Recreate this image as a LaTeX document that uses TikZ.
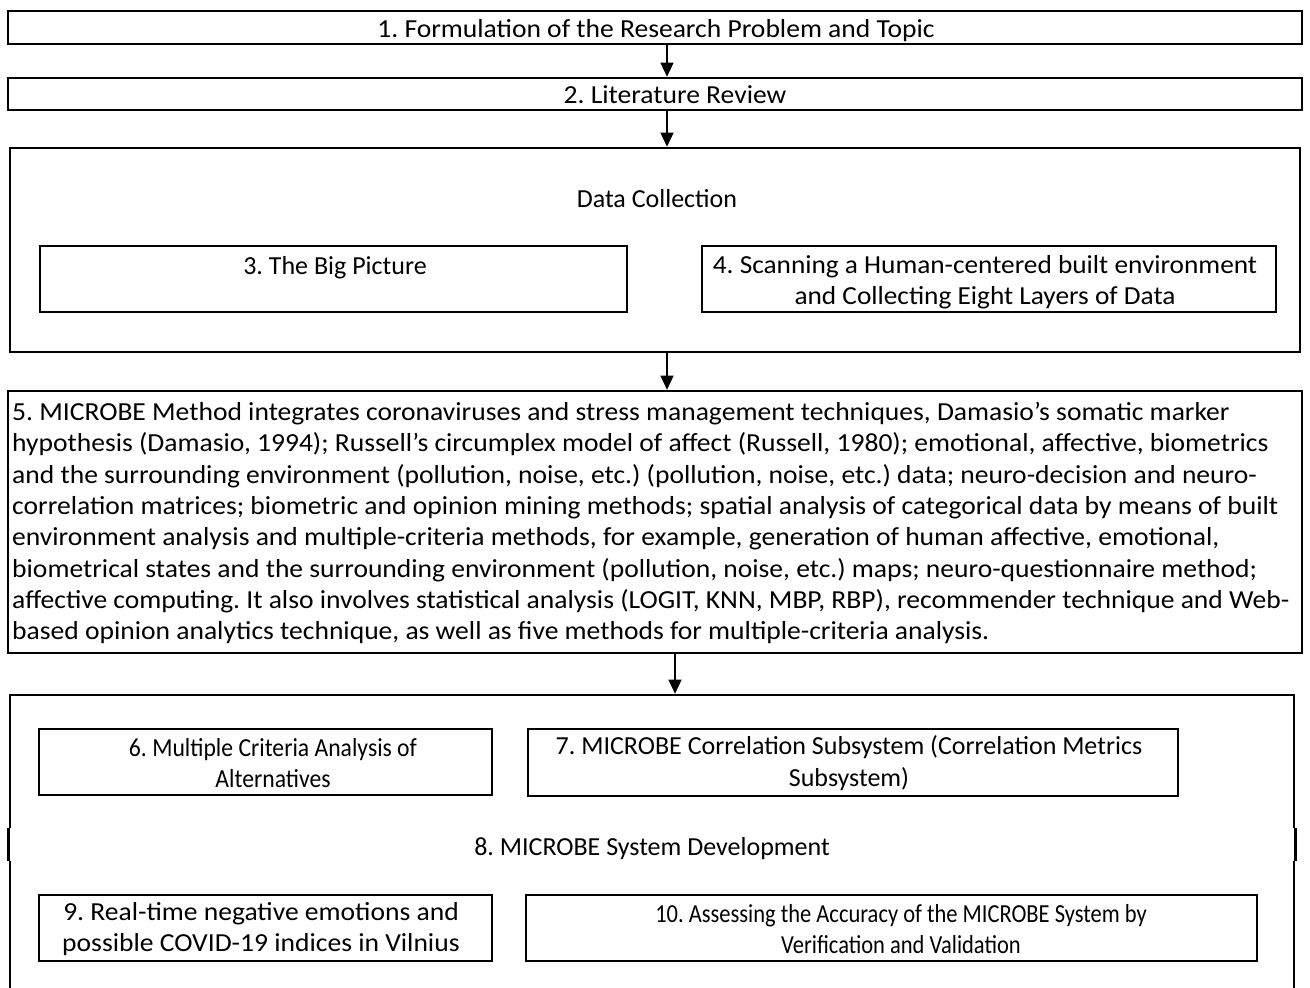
\documentclass[tikz,border=0pt]{standalone}
\usepackage{fontspec}
\setmainfont{Carlito}
\newfontfamily\fsOne[FakeStretch=1.06]{Carlito}
\newfontfamily\fsFour[FakeStretch=1.05]{Carlito}
\newfontfamily\fsFive[FakeStretch=1.06]{Carlito}
\newfontfamily\fsSix[FakeStretch=0.91]{Carlito}
\newfontfamily\fsNine[FakeStretch=1.06]{Carlito}
\newfontfamily\fsTen[FakeStretch=0.865]{Carlito}
\newcommand\tsize{\fontsize{26}{31.3}\selectfont}
\usetikzlibrary{arrows.meta}
\frenchspacing
\begin{document}
\begin{tikzpicture}[x=1pt,y=-1pt,
  frame/.style={draw, line width=2.6pt, inner sep=0pt},
  ghost/.style={inner sep=0pt, outer sep=1.3pt},
  txt/.style={font=\tsize, inner sep=0pt, align=center},
  arr/.style={line width=1.3pt, -{Triangle[width=13pt,length=14pt]}}]
\clip (0,0) rectangle (1310,988);
% boxes
\node[frame, minimum width=1294pt, minimum height=33pt] (b1) at (655,27.5) {};
\node[frame, minimum width=1294pt, minimum height=32pt] (b2) at (655,94) {};
\node[frame, minimum width=1290pt, minimum height=204pt] (dc) at (655,250) {};
\node[frame, minimum width=587pt, minimum height=66pt] (b3) at (333.5,279) {};
\node[frame, minimum width=574pt, minimum height=66pt] (b4) at (989,279) {};
\node[frame, minimum width=1294pt, minimum height=262pt] (b5) at (655,522) {};
\node[ghost, minimum width=1284pt, minimum height=310pt] (b8) at (652,850) {};
\draw[line width=2.6pt] (10,1000) -- (10,861) (8.5,861) -- (8.5,828) (10,828) -- (10,695) -- (1294,695) -- (1294,828)
  (1295.5,828) -- (1295.5,861) (1294,861) -- (1294,1000);
\node[frame, minimum width=453pt, minimum height=66pt] (b6) at (265.5,762) {};
\node[frame, minimum width=650pt, minimum height=67pt] (b7) at (853,762.5) {};
\node[frame, minimum width=453pt, minimum height=66pt] (b9) at (265.5,928) {};
\node[frame, minimum width=731pt, minimum height=66pt] (b10) at (891.5,928) {};
% texts
\node[txt, anchor=base, font=\fsOne\tsize] (t1) at (656,37) {1. Formulation of the Research Problem and Topic};
\node[txt, anchor=base, font=\fsOne\tsize] (t2) at (675,103) {2. Literature Review};
\node[txt, anchor=base] (tdc) at (657,207) {Data Collection};
\node[txt, anchor=base] (t3) at (335,274) {3. The Big Picture};
\node[txt, font=\fsFour\tsize] (t4) at (985,282) {4. Scanning a Human-centered built environment\\and Collecting Eight Layers of Data};
\node[txt, align=left, anchor=west, font=\fsFive\tsize] (t5) at (12,523) {5. MICROBE Method integrates coronaviruses and stress management techniques, Damasio’s somatic marker\\
hypothesis (Damasio, 1994); Russell’s circumplex model of affect (Russell, 1980); emotional, affective, biometrics\\
and the surrounding environment (pollution, noise, etc.) (pollution, noise, etc.) data; neuro-decision and neuro-\\
correlation matrices; biometric and opinion mining methods; spatial analysis of categorical data by means of built\\
environment analysis and multiple-criteria methods, for example, generation of human affective, emotional,\\
biometrical states and the surrounding environment (pollution, noise, etc.) maps; neuro-questionnaire method;\\
affective computing. It also involves statistical analysis (LOGIT, KNN, MBP, RBP), recommender technique and Web-\\
based opinion analytics technique, as well as five methods for multiple-criteria analysis.};
\node[txt, font=\fsSix\tsize] (t6) at (273,763) {6. Multiple Criteria Analysis of\\Alternatives};
\node[txt] (t7) at (849,763) {7. MICROBE Correlation Subsystem (Correlation Metrics\\Subsystem)};
\node[txt, anchor=base] (t8) at (652,855) {8. MICROBE System Development};
\node[txt, font=\fsNine\tsize] (t9) at (261,929) {9. Real-time negative emotions and\\possible COVID-19 indices in Vilnius};
\node[txt, font=\fsTen\tsize] (t10) at (901,929) {10. Assessing the Accuracy of the MICROBE System by\\Verification and Validation};
% arrows
\draw[arr] ([xshift=12pt]b1.south) -- ([xshift=12pt]b2.north);
\draw[arr] ([xshift=12pt]b2.south) -- ([xshift=12pt]dc.north);
\draw[arr] ([xshift=12pt]dc.south) -- ([xshift=12pt]b5.north);
\draw[arr] ([xshift=20pt]b5.south) -- ([xshift=23pt]b8.north);
\end{tikzpicture}
\end{document}
